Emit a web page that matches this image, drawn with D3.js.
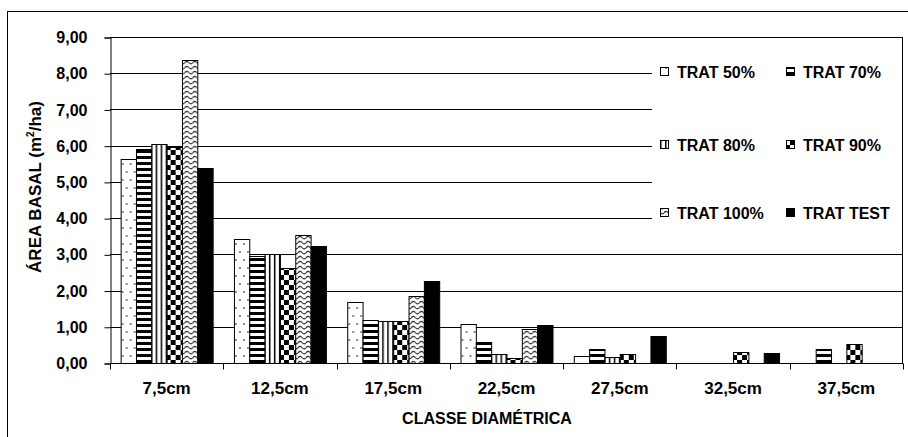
<!DOCTYPE html>
<html>
<head>
<meta charset="utf-8">
<script src="https://cdn.jsdelivr.net/npm/d3@7"></script>
<style>
  html, body { margin: 0; padding: 0; background: #fff; }
  svg { display: block; }
  text { font-family: "Liberation Sans", Arial, sans-serif; font-weight: bold; fill: #000; }
</style>
</head>
<body>
<svg id="chart" width="908" height="437"></svg>
<script>
// ---- data ----
const categories = ["7,5cm", "12,5cm", "17,5cm", "22,5cm", "27,5cm", "32,5cm", "37,5cm"];
const seriesNames = ["TRAT 50%", "TRAT 70%", "TRAT 80%", "TRAT 90%", "TRAT 100%", "TRAT TEST"];
const trat50   = [5.62, 3.41, 1.68, 1.08, 0.20, 0,    0];
const trat70   = [5.90, 2.95, 1.20, 0.57, 0.40, 0,    0.38];
const trat80   = [6.05, 3.02, 1.15, 0.26, 0.16, 0,    0];
const trat90   = [5.97, 2.62, 1.15, 0.13, 0.24, 0.29, 0.52];
const trat100  = [8.37, 3.54, 1.85, 0.94, 0,    0,    0];
const tratTest = [5.39, 3.23, 2.26, 1.04, 0.75, 0.27, 0];
const yTicks = [0, 1, 2, 3, 4, 5, 6, 7, 8, 9];
const yTitle = "ÁREA BASAL (m";
const xTitle = "CLASSE DIAMÉTRICA";

const seriesValues = [trat50, trat70, trat80, trat90, trat100, tratTest];
const patternIds = ["p50", "p70", "p80", "p90", "p100", "ptest"];

const svg = d3.select("#chart");
const margin = { left: 110, top: 37, right: 5, bottom: 74 };
const W = 908, H = 437;
const plotW = W - margin.left - margin.right;
const plotH = H - margin.top - margin.bottom;

// ---- patterns ----
const defs = svg.append("defs");
const p50 = defs.append("pattern").attr("id", "p50").attr("patternUnits", "userSpaceOnUse")
  .attr("width", 8).attr("height", 16);
p50.append("rect").attr("width", 8).attr("height", 16).attr("fill", "#fff");
p50.append("circle").attr("cx", 2).attr("cy", 4).attr("r", 0.9).attr("fill", "#555");
p50.append("circle").attr("cx", 6).attr("cy", 12).attr("r", 0.9).attr("fill", "#555");
const p70 = defs.append("pattern").attr("id", "p70").attr("patternUnits", "userSpaceOnUse")
  .attr("width", 6).attr("height", 6);
p70.append("rect").attr("width", 6).attr("height", 6).attr("fill", "#fff");
p70.append("rect").attr("y", 0).attr("width", 6).attr("height", 3).attr("fill", "#000");
const p80 = defs.append("pattern").attr("id", "p80").attr("patternUnits", "userSpaceOnUse")
  .attr("width", 5).attr("height", 5);
p80.append("rect").attr("width", 5).attr("height", 5).attr("fill", "#fff");
p80.append("rect").attr("x", 0).attr("width", 1.5).attr("height", 5).attr("fill", "#000");
const p90 = defs.append("pattern").attr("id", "p90").attr("patternUnits", "userSpaceOnUse")
  .attr("width", 10).attr("height", 10);
p90.append("rect").attr("width", 10).attr("height", 10).attr("fill", "#fff");
p90.append("rect").attr("x", 0).attr("y", 0).attr("width", 5).attr("height", 5).attr("fill", "#000");
p90.append("rect").attr("x", 5).attr("y", 5).attr("width", 5).attr("height", 5).attr("fill", "#000");
const p100 = defs.append("pattern").attr("id", "p100").attr("patternUnits", "userSpaceOnUse")
  .attr("width", 8).attr("height", 5);
p100.append("rect").attr("width", 8).attr("height", 5).attr("fill", "#fff");
p100.append("path").attr("d", "M0,3 Q2,0 4,2.5 T8,3").attr("fill", "none")
  .attr("stroke", "#333").attr("stroke-width", 1.1);
const ptest = defs.append("pattern").attr("id", "ptest").attr("patternUnits", "userSpaceOnUse")
  .attr("width", 4).attr("height", 4);
ptest.append("rect").attr("width", 4).attr("height", 4).attr("fill", "#000");

// ---- outer border ----
svg.append("rect").attr("x", 7.5).attr("y", 11.5).attr("width", 920).attr("height", 450)
  .attr("fill", "none").attr("stroke", "#000").attr("stroke-width", 1);

// ---- scales ----
const x0 = d3.scaleBand().domain(categories).range([margin.left, margin.left + plotW])
  .paddingInner(0.188).paddingOuter(0.094);
const x1 = d3.scaleBand().domain(seriesNames).range([0, x0.bandwidth()]).padding(0);
const y = d3.scaleLinear().domain([0, 9]).range([margin.top + plotH, margin.top]);

// ---- gridlines ----
const grid = svg.append("g");
grid.selectAll("line").data(yTicks.filter(d => d > 0)).join("line")
  .attr("x1", margin.left).attr("x2", margin.left + plotW)
  .attr("y1", d => Math.round(y(d)) + 0.5).attr("y2", d => Math.round(y(d)) + 0.5)
  .attr("stroke", "#000").attr("stroke-width", 1);
svg.append("line").attr("x1", margin.left + plotW - 0.5).attr("x2", margin.left + plotW - 0.5)
  .attr("y1", y(9)).attr("y2", y(0)).attr("stroke", "#000");

// ---- bars ----
const groups = svg.append("g").selectAll("g").data(categories).join("g")
  .attr("transform", d => `translate(${x0(d)},0)`);
groups.selectAll("rect")
  .data((c, ci) => seriesNames.map((s, si) => ({ s, si, v: seriesValues[si][ci] })).filter(d => d.v > 0))
  .join("rect")
  .attr("x", d => x1(d.s) + 0.5)
  .attr("width", x1.bandwidth())
  .attr("y", d => Math.round(y(d.v)) + 0.5)
  .attr("height", d => Math.round(y(0)) - Math.round(y(d.v)))
  .attr("fill", d => `url(#${patternIds[d.si]})`)
  .attr("stroke", "#000").attr("stroke-width", 1);

// ---- axes ----
const yAxis = d3.axisLeft(y).tickValues(yTicks).tickSize(6).tickPadding(17)
  .tickFormat(d => d.toFixed(2).replace(".", ","));
const gy = svg.append("g").attr("transform", `translate(${margin.left + 0.5},0.5)`).call(yAxis);
gy.select(".domain").attr("stroke", "#000");
gy.selectAll(".tick line").attr("stroke", "#000");
gy.selectAll("text").attr("font-size", 16).attr("font-family", "Liberation Sans, Arial, sans-serif")
  .attr("font-weight", "bold").attr("fill", "#000");

const gx = svg.append("g").attr("transform", `translate(0,${Math.round(y(0)) + 0.5})`);
gx.append("line").attr("x1", margin.left).attr("x2", margin.left + plotW).attr("stroke", "#000");
const bounds = categories.map(c => x0(c) - x0.step() * x0.paddingInner() / 2);
bounds.push(margin.left + plotW);
gx.selectAll(".tk").data(bounds).join("line").attr("class", "tk")
  .attr("x1", d => Math.round(d) + 0.5).attr("x2", d => Math.round(d) + 0.5)
  .attr("y1", 0).attr("y2", 6).attr("stroke", "#000");
gx.selectAll(".lbl").data(categories).join("text").attr("class", "lbl")
  .attr("x", d => x0(d) + x0.bandwidth() / 2).attr("y", 30)
  .attr("text-anchor", "middle").attr("font-size", 17).text(d => d);

// ---- titles ----
const yt = svg.append("text").attr("transform", "translate(41,187) rotate(-90)")
  .attr("text-anchor", "middle").attr("font-size", 17);
yt.append("tspan").text(yTitle);
yt.append("tspan").attr("font-size", 10).attr("dy", -7).text("2");
yt.append("tspan").attr("dy", 7).text("/ha)");

svg.append("text").attr("x", 487).attr("y", 424).attr("text-anchor", "middle")
  .attr("font-size", 16).text(xTitle);

// ---- legend ----
const lg = svg.append("g");
lg.append("rect").attr("x", 652).attr("y", 45).attr("width", 250).attr("height", 180).attr("fill", "#fff");
const legendRows = [72, 145, 213];
const legendCols = [660, 786];
seriesNames.forEach((s, i) => {
  const cx = legendCols[i % 2], cy = legendRows[Math.floor(i / 2)];
  lg.append("rect").attr("x", cx + 0.5).attr("y", cy - 4.5).attr("width", 8).attr("height", 8)
    .attr("fill", `url(#${patternIds[i]})`).attr("stroke", "#000");
  lg.append("text").attr("x", cx + 17).attr("y", cy + 5.5).attr("font-size", 16).text(s);
});
</script>
</body>
</html>
